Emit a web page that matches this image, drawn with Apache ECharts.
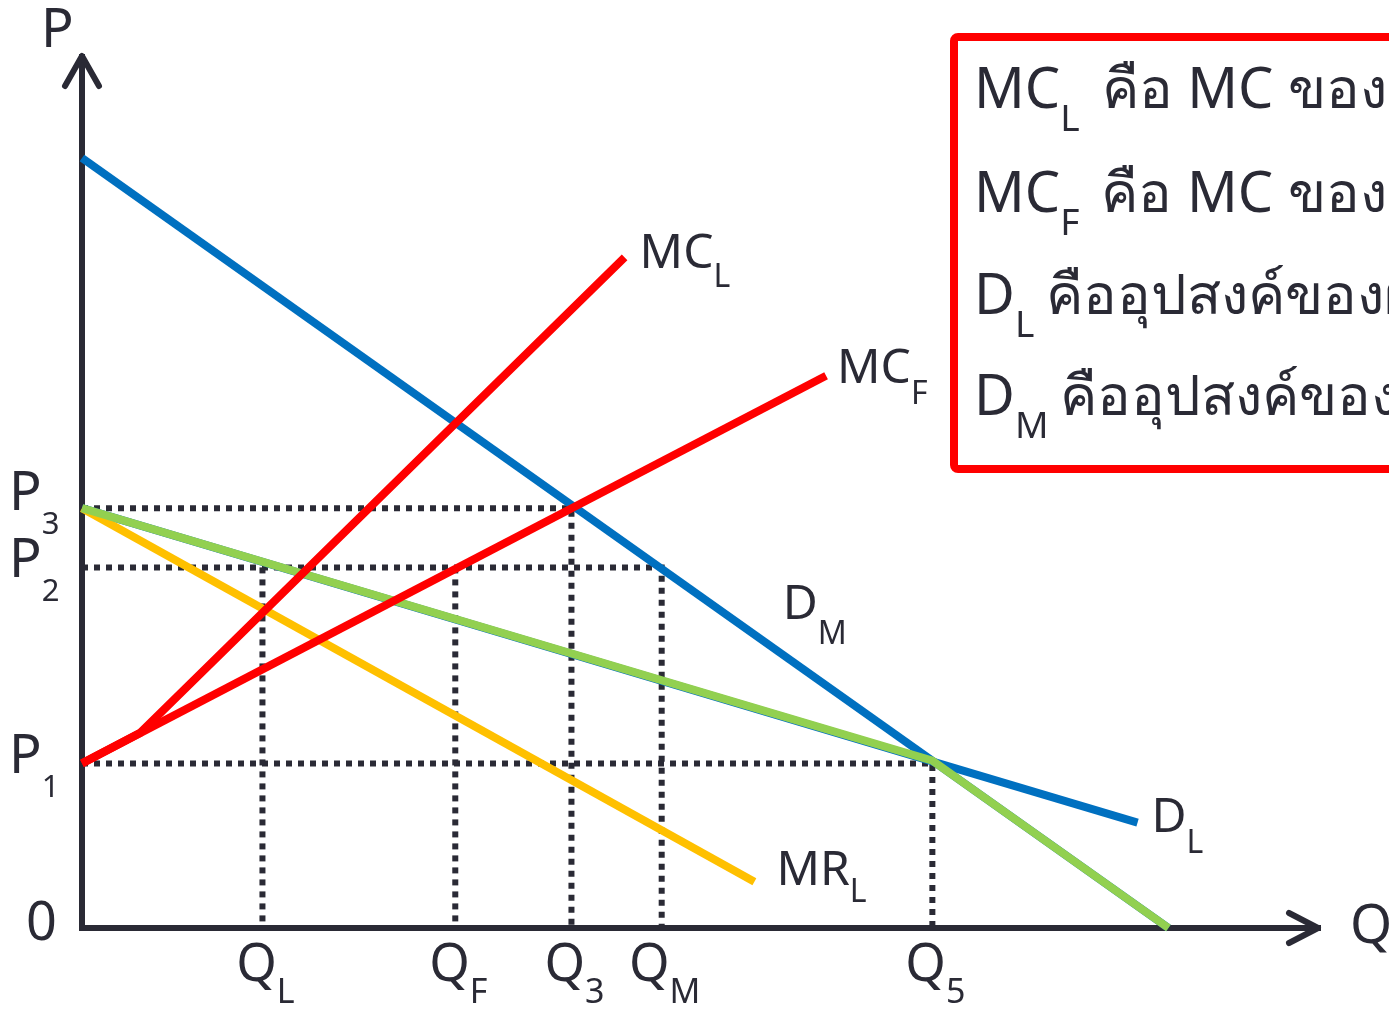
<!DOCTYPE html>
<html><head><meta charset="utf-8">
<script src="https://cdn.jsdelivr.net/npm/echarts@6/dist/echarts.min.js"></script>
<style>html,body{margin:0;padding:0;background:#fff}#c{width:1389px;height:1013px}</style>
</head><body><div id="c"></div>
<script>
// ---- data (quantity on x, price on y, 0-100 scale) ----
const qTickSubs = ['L', 'F', '3', 'M', '5'];
const qTickValues = [14.6, 30.2, 39.6, 46.9, 68.8];
const pTickSubs = ['3', '2', '1'];
const pTickValues = [48.2, 41.4, 18.9];
const demandMarket = [[0, 88.4], [87.9, 0]];
const demandLeader = [[0, 48.2], [85.4, 12.1]];
const mrLeader = [[0, 48.2], [54.4, 5.3]];
const kinkedDemand = [[0, 48.2], [68.8, 19.2], [87.9, 0]];
const mcFollower = [[0, 18.9], [60.2, 63.4]];
const mcLeader = [[0, 18.9], [4.7, 22.4], [43.9, 77.0]];
const legendRows = [
  ['MC', 'L', 'คือ MC ของผู้นำ'],
  ['MC', 'F', 'คือ MC ของผู้ตาม'],
  ['D', 'L', 'คืออุปสงค์ของผู้นำ'],
  ['D', 'M', 'คืออุปสงค์ของตลาด']
];

const FONT = '"Noto Sans", "Open Sans", sans-serif';
const INK = '#2a2a35';
const chart = echarts.init(document.getElementById('c'), null, {renderer: 'canvas'});

const [QL, QF, Q3, QM, Q5] = qTickValues;
const [P3, P2, P1] = pTickValues;
const dotted = [
  [[0, P3], [Q3, P3], [Q3, 0]],
  [[0, P2], [QM, P2], [QM, 0]],
  [[0, P1], [Q5, P1], [Q5, 0]],
  [[QL, P2], [QL, 0]],
  [[QF, P2], [QF, 0]]
];

function lineSeries(data, color, width, z, dash) {
  return {
    type: 'line', data: data, showSymbol: false, silent: true, z: z,
    animation: false,
    lineStyle: {color: color, width: width, type: dash || 'solid', cap: 'butt', join: 'miter'}
  };
}

const series = [];
dotted.forEach(d => series.push(lineSeries(d, INK, 6, 1, [6, 6])));
series.push(lineSeries(demandMarket, '#0070C0', 8, 2));
series.push(lineSeries(demandLeader, '#0070C0', 8, 2));
series.push(lineSeries(mrLeader, '#FFC000', 8, 3));
series.push(lineSeries(kinkedDemand, '#92D050', 8, 4));
series.push(lineSeries(mcFollower, '#FF0000', 8, 5));
series.push(lineSeries(mcLeader, '#FF0000', 8, 5));

chart.setOption({
  animation: false,
  backgroundColor: '#fff',
  grid: {left: 82, right: 71, top: 57, bottom: 85, containLabel: false},
  xAxis: {type: 'value', min: 0, max: 100, splitLine: {show: false},
    axisTick: {show: false}, axisLabel: {show: false},
    axisLine: {show: true, onZero: false, lineStyle: {color: INK, width: 6, cap: 'square'}}},
  yAxis: {type: 'value', min: 0, max: 100, splitLine: {show: false},
    axisTick: {show: false}, axisLabel: {show: false},
    axisLine: {show: true, onZero: false, lineStyle: {color: INK, width: 6, cap: 'square'}}},
  series: series
});

// ---- text & decorations ----
const mctx = document.createElement('canvas').getContext('2d');
function tw(t, size) { mctx.font = size + 'px ' + FONT; return mctx.measureText(t).width; }
function px(p) { return chart.convertToPixel({gridIndex: 0}, p); }
function txt(x, y, t, size) {
  return {type: 'text', x: x, y: y, z: 100, silent: true,
    style: {text: t, fontSize: size, fontFamily: FONT, fill: INK, align: 'left', verticalAlign: 'middle'}};
}
function subLabel(x, y, main, sub, size, subSize, dy) {
  const w = tw(main, size);
  return [txt(x, y, main, size), txt(x + w, y + dy, sub, subSize)];
}
function subWidth(main, sub, size, subSize) { return tw(main, size) + tw(sub, subSize); }

const g = [];
// axis arrows
const yTop = px([0, 100]);
const xEnd = px([100, 0]);
g.push({type: 'polyline', z: 50, silent: true, shape: {points: [[yTop[0] - 17, yTop[1] + 29], [yTop[0], yTop[1] - 1], [yTop[0] + 17, yTop[1] + 29]]},
  style: {stroke: INK, lineWidth: 6, fill: null, lineJoin: 'round', lineCap: 'round'}});
g.push({type: 'polyline', z: 50, silent: true, shape: {points: [[xEnd[0] - 29, xEnd[1] - 15], [xEnd[0], xEnd[1]], [xEnd[0] - 29, xEnd[1] + 15]]},
  style: {stroke: INK, lineWidth: 6, fill: null, lineJoin: 'round', lineCap: 'round'}});

// axis names and origin
const o = px([0, 0]);
g.push(txt(yTop[0] - 41, yTop[1] - 25, 'P', 54));
g.push(txt(xEnd[0] + 32, xEnd[1], 'Q', 54));
g.push(txt(o[0] - 56, o[1] - 3, '0', 54));

// price tick labels
const pDy = [-14, -6, -6];
pTickValues.forEach((v, i) => {
  const p = px([0, v]);
  g.push(...subLabel(9, p[1] + pDy[i], 'P', pTickSubs[i], 54, 31, 31));
});
// quantity tick labels
qTickValues.forEach((v, i) => {
  const p = px([v, 0]);
  const w = subWidth('Q', qTickSubs[i], 52, 34);
  g.push(...subLabel(p[0] - w / 2 + 3, p[1] + 38, 'Q', qTickSubs[i], 52, 34, 27));
});

// curve labels
function endOf(arr) { return px(arr[arr.length - 1]); }
let a = endOf(mcLeader);  g.push(...subLabel(a[0] + 15, a[1] - 3, 'MC', 'L', 48, 32, 24));
a = endOf(mcFollower);    g.push(...subLabel(a[0] + 11, a[1] - 6, 'MC', 'F', 48, 32, 25));
a = endOf(demandLeader);  g.push(...subLabel(a[0] + 14, a[1] - 4, 'D', 'L', 48, 32, 25));
a = endOf(mrLeader);      g.push(...subLabel(a[0] + 22, a[1] - 11, 'MR', 'L', 48, 32, 22));
a = px([55, 88.4 - 88.4 / 87.9 * 55]);
g.push(...subLabel(a[0] + 21, a[1] - 34, 'D', 'M', 48, 32, 29));

// legend box
g.push({type: 'rect', z: 60, silent: true, shape: {x: 954, y: 37, width: 600, height: 432, r: 4},
  style: {stroke: '#FF0000', lineWidth: 8, fill: '#fff'}});
const rowY = [92, 196, 298, 399];
const rowGap = [22, 22, 12, 12];
legendRows.forEach((r, i) => {
  const x0 = 974;
  const w = subWidth(r[0], r[1], 56, 37);
  g.push(...subLabel(x0, rowY[i], r[0], r[1], 56, 37, 28));
  g.push(txt(x0 + w + rowGap[i], rowY[i], r[2], 56));
});

chart.setOption({graphic: g});
</script>
</body></html>
